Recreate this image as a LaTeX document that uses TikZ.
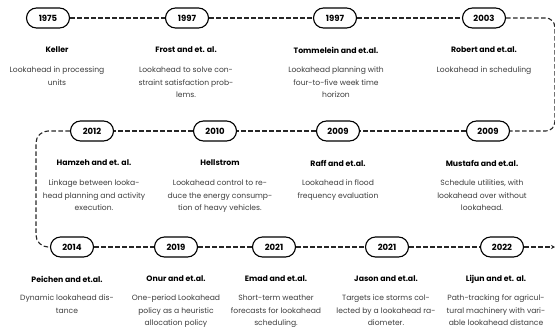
\documentclass[tikz,border=0pt]{standalone}
\usepackage{fontspec}
\setmainfont{Poppins}
\usetikzlibrary{arrows.meta}
\definecolor{desc}{HTML}{3C3C3C}
\tikzset{
  yearpill/.style={draw=black, line width=1.1pt, rounded corners=10pt, minimum width=43pt, minimum height=20pt, inner sep=0pt, font=\bfseries\fontsize{8.5}{10}\selectfont},
  title/.style={font=\bfseries\fontsize{7.8}{9}\selectfont, inner sep=0pt},
  descr/.style={font=\fontsize{7.6}{12.7}\selectfont, text=desc, align=center, inner sep=0pt, anchor=north},
  tline/.style={draw=black!85, line width=1.1pt, dash pattern=on 4.5pt off 2.5pt},
}
\begin{document}
\begin{tikzpicture}[x=1pt,y=-1pt]
\useasboundingbox (0,0) rectangle (555,335);
% row 1
\node[yearpill] (p1) at (48,18) {1975};
\node[yearpill] (p2) at (187,18) {1997};
\node[yearpill] (p3) at (335,18) {1997};
\node[yearpill] (p4) at (484,18) {2003};
% row 2
\node[yearpill] (q1) at (92,131) {2012};
\node[yearpill] (q2) at (215,131) {2010};
\node[yearpill] (q3) at (338,131) {2009};
\node[yearpill] (q4) at (488,131) {2009};
% row 3
\node[yearpill] (s1) at (72,247) {2014};
\node[yearpill] (s2) at (176,247) {2019};
\node[yearpill] (s3) at (274,247) {2021};
\node[yearpill] (s4) at (387,247) {2021};
\node[yearpill] (s5) at (502,247) {2022};
% connector corner points
\coordinate (r1) at (554.8,18);
\coordinate (r2) at (554.8,131);
\coordinate (l1) at (36,131);
\coordinate (l2) at (36,247);
\coordinate (endpt) at (555,247);
% connectors
\draw[tline] (p1.east) -- (p2.west);
\draw[tline] (p2.east) -- (p3.west);
\draw[tline] (p3.east) -- (p4.west);
\draw[tline, rounded corners=9pt] (p4.east) -- (r1) -- (r2) -- (q4.east);
\draw[tline] (q4.west) -- (q3.east);
\draw[tline] (q3.west) -- (q2.east);
\draw[tline] (q2.west) -- (q1.east);
\draw[tline, rounded corners=12pt] (q1.west) -- (l1) -- (l2) -- (s1.west);
\draw[tline] (s1.east) -- (s2.west);
\draw[tline] (s2.east) -- (s3.west);
\draw[tline] (s3.east) -- (s4.west);
\draw[tline] (s4.east) -- (s5.west);
\draw[tline, -{Stealth[length=4pt,width=4pt]}] (s5.east) -- (endpt);
% row 1 texts
\node[title] (t1) at (57,50) {Keller};
\node[descr] (d1) at (57,66.5) {Lookahead in processing\\units};
\node[title] (t2) at (186,50) {Frost and et. al.};
\node[descr] (d2) at (186,66.5) {Lookahead to solve con-\\straint satisfaction prob-\\lems.};
\node[title] (t3) at (336,50) {Tommelein and et.al.};
\node[descr] (d3) at (336,66.5) {Lookahead planning with\\four-to-five week time\\horizon};
\node[title] (t4) at (484,50) {Robert and et.al.};
\node[descr] (d4) at (484,66.5) {Lookahead in scheduling};
% row 2 texts
\node[title] (u1) at (94,163) {Hamzeh and et. al.};
\node[descr] (e1) at (94,179.5) {Linkage between looka-\\head planning and activity\\execution.};
\node[title] (u2) at (220,163) {Hellstrom};
\node[descr] (e2) at (220,179.5) {Lookahead control to re-\\duce the energy consump-\\tion of heavy vehicles.};
\node[title] (u3) at (338,163) {Raff and et.al.};
\node[descr] (e3) at (338,179.5) {Lookahead in flood\\frequency evaluation};
\node[title] (u4) at (482,163) {Mustafa and et.al.};
\node[descr] (e4) at (482,179.5) {Schedule utilities, with\\lookahead over without\\lookahead.};
% row 3 texts
\node[title] (v1) at (67,279) {Peichen and et.al.};
\node[descr] (f1) at (67,294.5) {Dynamic lookahead dis-\\tance};
\node[title] (v2) at (176,279) {Onur and et.al.};
\node[descr] (f2) at (176,294.5) {One-period Lookahead\\policy as a heuristic\\allocation policy};
\node[title] (v3) at (276,279) {Emad and et.al.};
\node[descr] (f3) at (276,294.5) {Short-term weather\\forecasts for lookahead\\scheduling.};
\node[title] (v4) at (386,279) {Jason and et.al.};
\node[descr] (f4) at (386,294.5) {Targets ice storms col-\\lected by a lookahead ra-\\diometer.};
\node[title] (v5) at (496,279) {Lijun and et. al.};
\node[descr] (f5) at (496,294.5) {Path-tracking for agricul-\\tural machinery with vari-\\able lookahead distance};
\end{tikzpicture}
\end{document}
